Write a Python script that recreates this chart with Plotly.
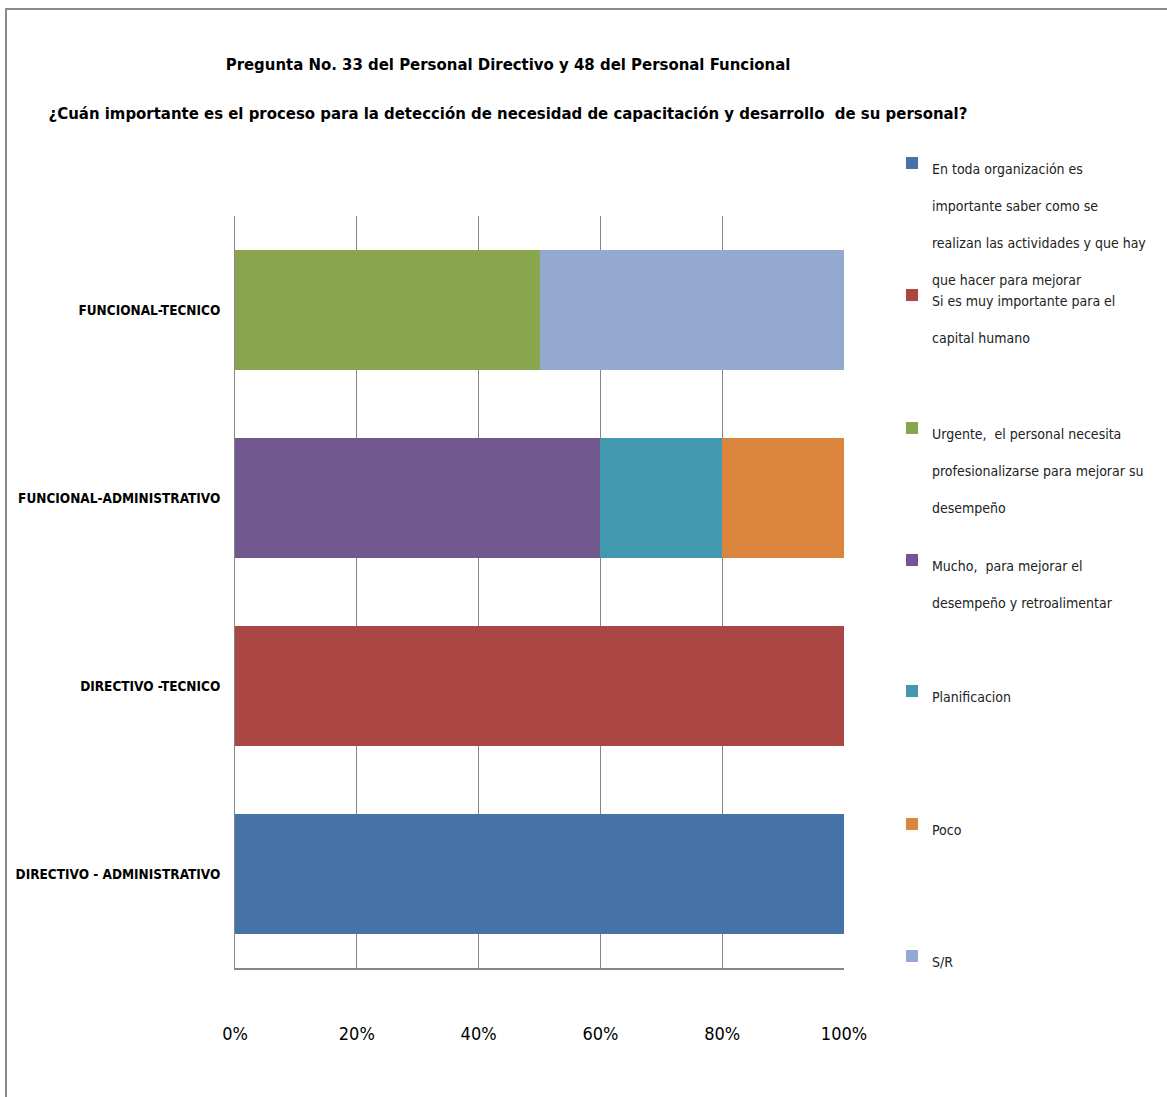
import plotly.graph_objects as go

categories = ["DIRECTIVO - ADMINISTRATIVO", "DIRECTIVO -TECNICO",
              "FUNCIONAL-ADMINISTRATIVO", "FUNCIONAL-TECNICO"]

series_lines = [
    ["En toda organización es", "importante saber como se",
     "realizan las actividades y que hay", "que hacer para mejorar"],
    ["Si es muy importante para el", "capital humano"],
    ["Urgente,  el personal necesita", "profesionalizarse para mejorar su", "desempeño"],
    ["Mucho,  para mejorar el", "desempeño y retroalimentar"],
    ["Planificacion"],
    ["Poco"],
    ["S/R"],
]

# percentages per category (bottom to top)
s_en_toda = [100, 0, 0, 0]
s_si_es = [0, 100, 0, 0]
s_urgente = [0, 0, 0, 50]
s_mucho = [0, 0, 60, 0]
s_planif = [0, 0, 20, 0]
s_poco = [0, 0, 20, 0]
s_sr = [0, 0, 0, 50]

series_values = [s_en_toda, s_si_es, s_urgente, s_mucho, s_planif, s_poco, s_sr]
colors = ["#4572A7", "#AA4643", "#89A54E", "#71588F", "#4198AF", "#DB843D", "#93A9CF"]

x_ticks = [0, 20, 40, 60, 80, 100]
x_ticktext = ["0%", "20%", "40%", "60%", "80%", "100%"]

title_lines = ["Pregunta No. 33 del Personal Directivo y 48 del Personal Funcional",
               "¿Cuán importante es el proceso para la detección de necesidad de capacitación y desarrollo  de su personal?"]

FONT = "Liberation Sans Narrow, DejaVu Sans Condensed, Arial Narrow, sans-serif"

W, H = 1167, 1097
L, R, T, B = 235, 323, 216, 129
plot_w = W - L - R
plot_h = H - T - B

LEG_TXT = 14
LEG_EM = 28.5   # gives ~37px line spacing like the reference


def small(lines, px):
    return "<br>".join(f'<span style="font-size:{px}px">{t}</span>' for t in lines)


legend_top_px = [138, 270, 403, 535, 666, 799, 931]

fig = go.Figure()
for i, (lines, vals, col) in enumerate(zip(series_lines, series_values, colors)):
    lg = "legend" if i == 0 else f"legend{i+1}"
    fig.add_trace(go.Bar(
        y=categories, x=vals, name=small(lines, LEG_TXT), orientation="h",
        marker=dict(color=col, line=dict(width=0)),
        legend=lg,
    ))

layout_legends = {}
for i, ypx in enumerate(legend_top_px):
    key = "legend" if i == 0 else f"legend{i+1}"
    layout_legends[key] = dict(
        xref="container", yref="container",
        x=892 / W, xanchor="left",
        y=1 - ypx / H, yanchor="top",
        font=dict(family=FONT, size=LEG_EM, color="#222222"),
        bgcolor="rgba(0,0,0,0)",
        itemwidth=30,
        valign="top",
        traceorder="normal",
    )

fig.update_layout(
    width=W, height=H,
    margin=dict(l=L, r=R, t=T, b=B, autoexpand=False),
    barmode="stack",
    bargap=0.36,
    plot_bgcolor="white",
    paper_bgcolor="white",
    showlegend=True,
    title=dict(
        text=small(title_lines, 16.6),
        xref="container", yref="container",
        x=508 / W, xanchor="center",
        y=1 - 70 / H, yanchor="top",
        font=dict(family=FONT, size=38, color="#000000", weight="bold"),
    ),
    xaxis=dict(
        range=[0, 100],
        tickvals=x_ticks, ticktext=x_ticktext,
        showgrid=True, gridcolor="#868686", gridwidth=1,
        showline=True, linecolor="#868686", linewidth=2,
        zeroline=False,
        ticks="",
        ticklabelstandoff=48,
        tickfont=dict(family=FONT, size=18, color="#000000"),
        fixedrange=True,
        automargin=False,
    ),
    yaxis=dict(
        showline=True, linecolor="#868686", linewidth=1,
        ticks="",
        ticklabelstandoff=11,
        tickfont=dict(family=FONT, size=13.5, color="#000000", weight="bold"),
        showgrid=False,
        fixedrange=True,
        automargin=False,
    ),
    **layout_legends,
)

# chart outer border
fig.add_shape(
    type="rect", xref="paper", yref="paper",
    x0=(6 - L) / plot_w, x1=(W + 20 - L) / plot_w,
    y0=(H - B - (H + 20)) / plot_h, y1=(H - B - 9) / plot_h,
    line=dict(color="#8a8a8a", width=2), fillcolor="rgba(0,0,0,0)", layer="below",
)

fig.write_html("out.html")
